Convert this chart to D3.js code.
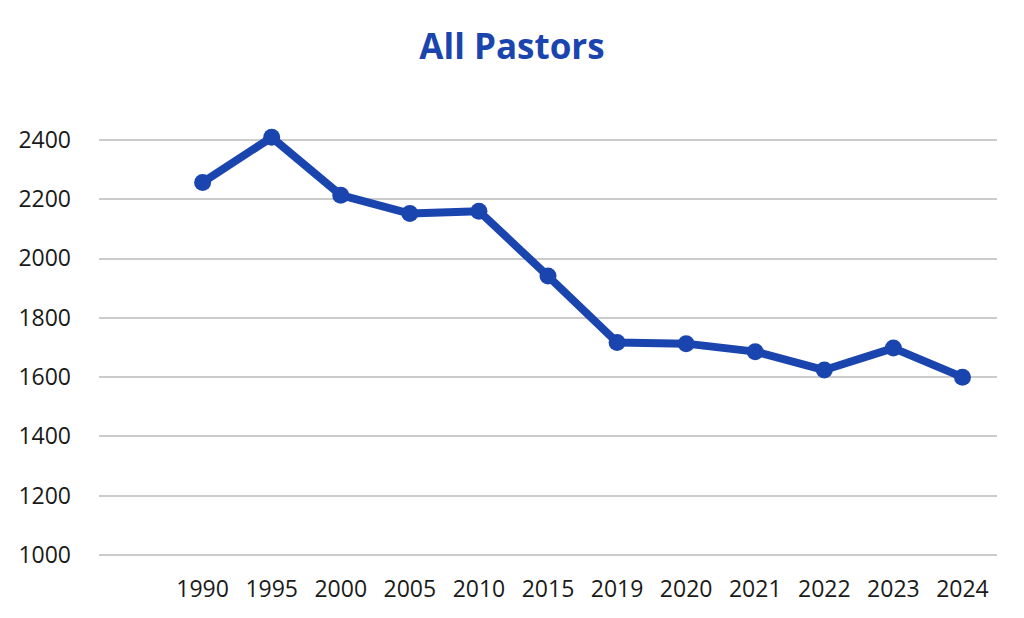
<!DOCTYPE html>
<html>
	<head>
		<title>All Pastors</title>
		<meta charset='UTF-8' />
		<style>
			body {
				margin: 0;
				background: #ffffff;
				font-family: 'Open Sans', sans-serif;
			}
			.grid line {
				stroke: #cccccc;
				stroke-width: 2px;
				shape-rendering: crispEdges;
			}
			.tick text {
				fill: #1a1a1a;
				font-family: 'Open Sans', sans-serif;
				font-size: 23px;
			}
		</style>
	</head>

	<body>
	<script src='https://d3js.org/d3.v7.min.js'></script>

	<script>
	'use strict';
	const years = ['1990', '1995', '2000', '2005', '2010', '2015', '2019', '2020', '2021', '2022', '2023', '2024'];
	const pastors = [2257, 2409, 2214, 2152, 2160, 1941, 1717, 1713, 1686, 1624, 1698, 1600];
	const yTicks = [1000, 1200, 1400, 1600, 1800, 2000, 2200, 2400];

	const width = 1024;
	const height = 618;
	const blue = '#1b45ae';

	const svg = d3.select('body').append('svg')
		.attr('width', width)
		.attr('height', height);

	// gridlines run further left than the first category slot
	const gridLeft = 99;
	const gridRight = 997;

	const x = d3.scaleBand()
		.domain(years)
		.range([gridLeft + (gridRight - gridLeft) / 13, gridRight]);

	const y = d3.scaleLinear()
		.domain([1000, 2400])
		.range([555, 140]);

	svg.append('text')
		.attr('x', 512)
		.attr('y', 59)
		.attr('text-anchor', 'middle')
		.style('font-size', '35px')
		.style('font-weight', 'bold')
		.style('fill', blue)
		.text('All Pastors');

	// horizontal grid
	svg.append('g')
		.attr('class', 'grid')
		.selectAll('line')
		.data(yTicks)
		.enter().append('line')
		.attr('x1', gridLeft)
		.attr('x2', gridRight)
		.attr('y1', d => y(d))
		.attr('y2', d => y(d));

	// y axis labels
	const yAxis = svg.append('g')
		.attr('transform', 'translate(' + (gridLeft - 28) + ',0)')
		.call(d3.axisLeft(y).tickValues(yTicks).tickSize(0).tickPadding(0).tickFormat(d3.format('d')));
	yAxis.select('.domain').remove();

	// x axis labels
	const xAxis = svg.append('g')
		.attr('transform', 'translate(0,581)')
		.call(d3.axisBottom(x).tickSize(0).tickPadding(0));
	xAxis.select('.domain').remove();
	xAxis.selectAll('text').attr('dy', '0.71em');

	const line = d3.line()
		.x((d, i) => x(years[i]) + x.bandwidth() / 2)
		.y(d => y(d));

	svg.append('path')
		.datum(pastors)
		.attr('d', line)
		.attr('fill', 'none')
		.attr('stroke', blue)
		.attr('stroke-width', 8)
		.attr('stroke-linejoin', 'round');

	svg.selectAll('circle')
		.data(pastors)
		.enter().append('circle')
		.attr('cx', (d, i) => x(years[i]) + x.bandwidth() / 2)
		.attr('cy', d => y(d))
		.attr('r', 8.5)
		.attr('fill', blue);
	</script>
</body>
</html>
